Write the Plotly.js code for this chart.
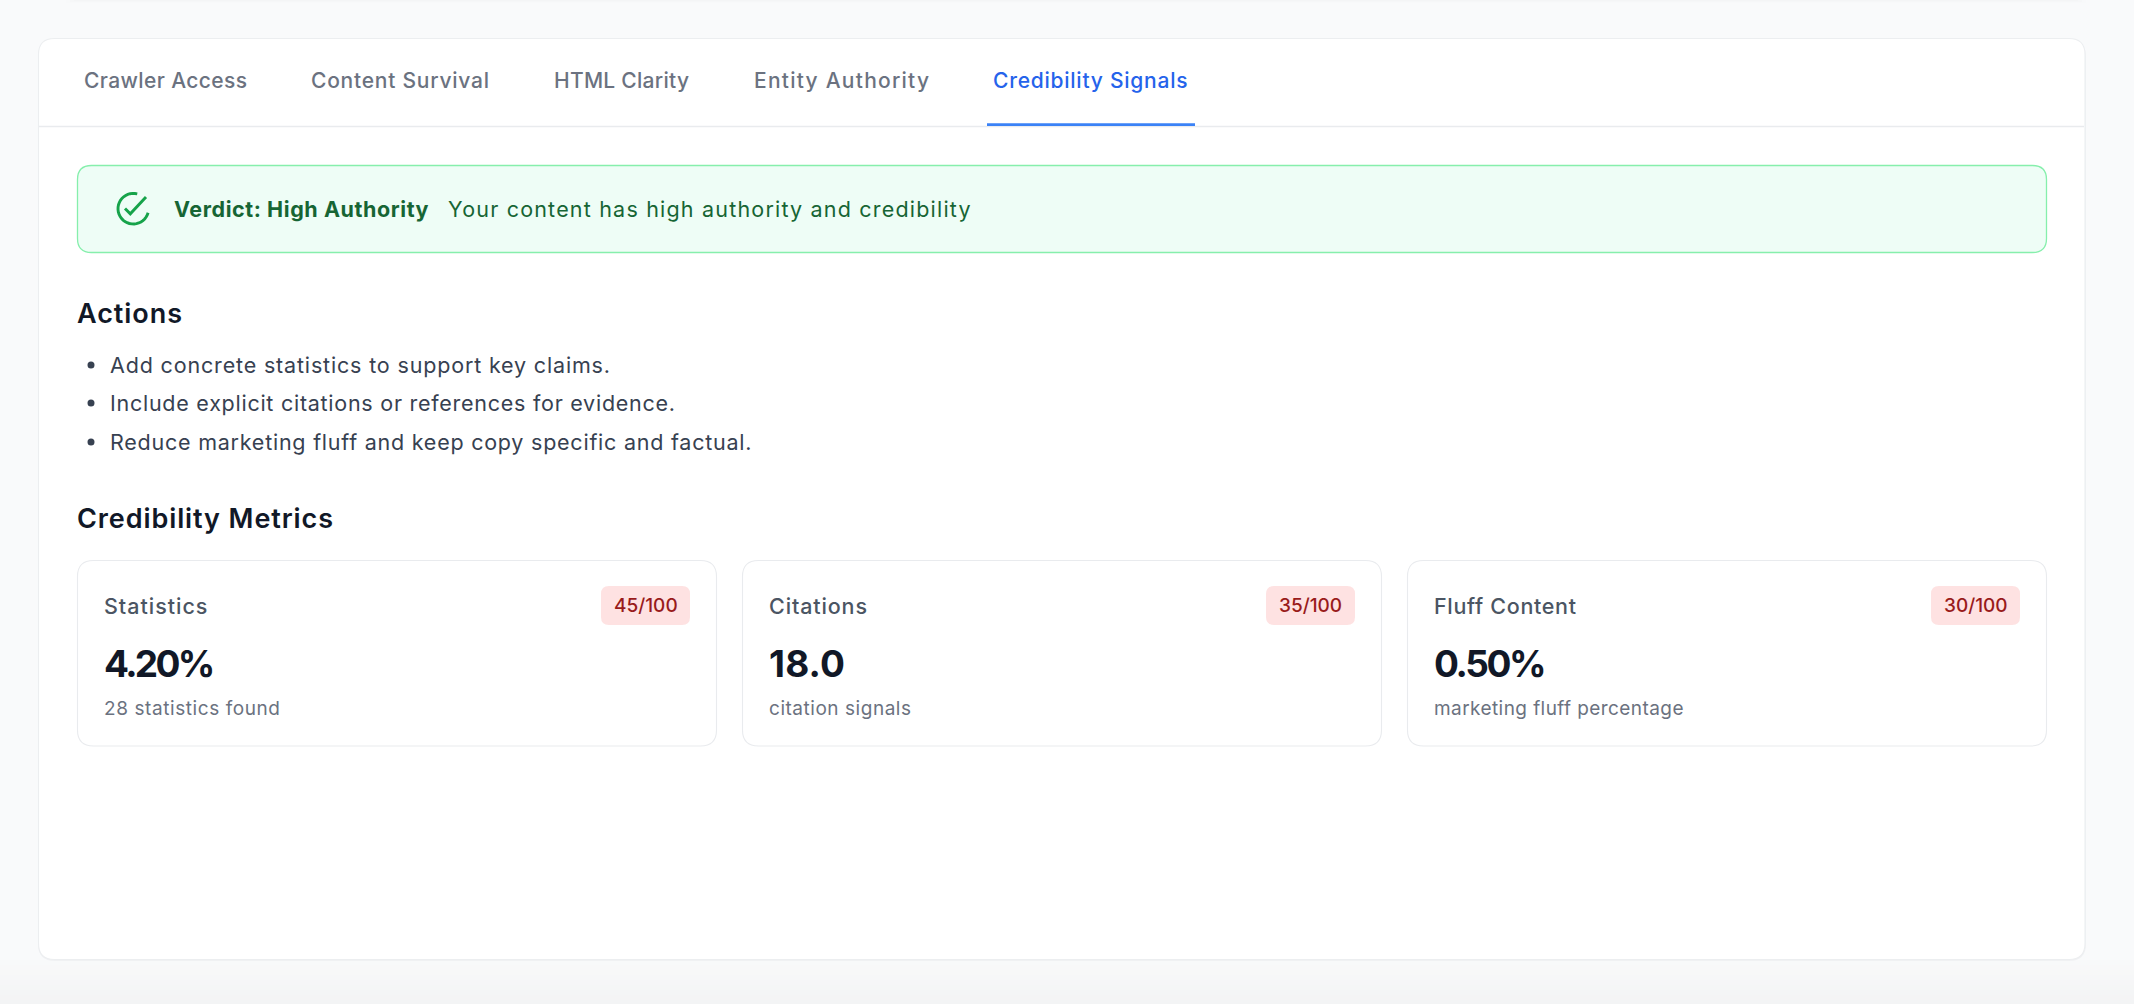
<!DOCTYPE html>
<html><head><meta charset="utf-8">
<script src="https://cdn.plot.ly/plotly-3.0.1.min.js"></script>
<style>html,body{margin:0;padding:0;background:#f9fafb;overflow:hidden}#c{width:2134px;height:1004px}</style>
</head><body><div id="c"></div>
<script>
const tabs=["Crawler Access","Content Survival","HTML Clarity","Entity Authority","Credibility Signals"];
const verdictLabel="Verdict: High Authority";
const verdictText="Your content has high authority and credibility";
const actionsTitle="Actions";
const actions=["Add concrete statistics to support key claims.","Include explicit citations or references for evidence.","Reduce marketing fluff and keep copy specific and factual."];
const metricsTitle="Credibility Metrics";
const metricNames=["Statistics","Citations","Fluff Content"];
const metricValues=["4.20%","18.0","0.50%"];
const metricNotes=["28 statistics found","citation signals","marketing fluff percentage"];
const metricScores=["45/100","35/100","30/100"];

const F="Inter, sans-serif";
const ctx=document.createElement('canvas').getContext('2d');
const rr=(x0,y0,x1,y1,r)=>`M${x0+r},${y0}L${x1-r},${y0}Q${x1},${y0} ${x1},${y0+r}L${x1},${y1-r}Q${x1},${y1} ${x1-r},${y1}L${x0+r},${y1}Q${x0},${y1} ${x0},${y1-r}L${x0},${y0+r}Q${x0},${y0} ${x0+r},${y0}Z`;
const box=(x0,y0,x1,y1,r,fill,line,w)=>({type:'path',xref:'x',yref:'y',path:rr(x0,y0,x1,y1,r),fillcolor:fill,line:{color:line||'rgba(0,0,0,0)',width:w===undefined?(line?1.2:0):w},layer:'below'});
// fit: ink width wanted for the text, reached with letter-spacing
const txt=(x,y,s,size,color,weight,anchor,fit)=>{
  let t=s;
  if(fit){
    ctx.font=`${weight||400} ${size}px Inter`;
    const sp=(fit-ctx.measureText(s).width)/(s.length-1);
    t=`<span style="letter-spacing:${sp.toFixed(3)}px">${s}</span>`;
  }
  return {x:anchor?x:x-1.2,y,xref:'x',yref:'y',text:t,showarrow:false,xanchor:anchor||'left',yanchor:'middle',align:'left',font:{family:F,size,color,weight:weight||400},borderpad:0};
};

const shapes=[],ann=[];
// bottom fade & top shadow
['#f8f9fa','#f8f8f9','#f7f8f8','#f6f7f8','#f6f6f7','#f5f6f6','#f4f5f6','#f4f4f5','#f3f4f5'].forEach((c,i)=>shapes.push({type:'rect',x0:0,x1:2134,y0:960+i*5,y1:1004,fillcolor:c,line:{width:0},layer:'below'}));
[[66,2086,3,'#f8f9fa'],[70,2082,2,'#f6f7f8'],[74,2078,1,'#f4f5f6']].forEach(([a,b,h,c])=>shapes.push({type:'rect',x0:a,x1:b,y0:0,y1:h,fillcolor:c,line:{width:0},layer:'below'}));
// main card
shapes.push(box(38,40,2086,961,17,'#f0f1f3',null));
shapes.push(box(38.5,38.5,2085,959.5,16,'#ffffff','#eceef0',1.1));
// tab rule + underline
shapes.push({type:'line',x0:39,x1:2084,y0:126.5,y1:126.5,line:{color:'#e9ebee',width:1.3}});
shapes.push({type:'rect',x0:987,x1:1195,y0:123.2,y1:126,fillcolor:'#3b82f6',line:{width:0}});
const tabX=[84,311,554,754,993.5], tabFit=[163,178,135,175,194.5];
tabs.forEach((t,i)=>ann.push(txt(tabX[i],80.5,t,21,i==4?'#2563eb':'#6b7280',500,null,tabFit[i])));
// banner
shapes.push(box(77.5,165.5,2046.5,252.5,14,'#eefdf6','#86efac',1.3));
const ax=133.3, ay=208.7, ar=15.3, pts=[];
for(let a=15;a<=285;a+=9){const d=a*Math.PI/180;pts.push((pts.length?'L':'M')+(ax+ar*Math.cos(d)).toFixed(2)+','+(ay+ar*Math.sin(d)).toFixed(2));}
shapes.push({type:'path',xref:'x',yref:'y',path:pts.join(''),line:{color:'#16a34a',width:2.9},fillcolor:'rgba(0,0,0,0)'});
shapes.push({type:'path',xref:'x',yref:'y',path:'M125,208.5 L130.3,213.8 L146,197',line:{color:'#16a34a',width:2.9},fillcolor:'rgba(0,0,0,0)'});
ann.push(txt(174.6,209,verdictLabel,21.5,'#166534',700,null,254.5));
ann.push(txt(448,209,verdictText,21.5,'#166534',400,null,522.5));
// actions
ann.push(txt(77.5,313,actionsTitle,27,'#111827',600,null,105));
const bulletY=[365,403,442], bulletFit=[500,565,641.5];
actions.forEach((a,i)=>{
  shapes.push({type:'circle',x0:87.5,x1:94.5,y0:bulletY[i]-3.5,y1:bulletY[i]+3.5,fillcolor:'#374151',line:{width:0}});
  ann.push(txt(110,bulletY[i],a,21.5,'#374151',400,null,bulletFit[i]));
});
ann.push(txt(77.5,518.5,metricsTitle,27,'#111827',600,null,256));
// metric cards
const cardX=[77.5,742.5,1407.5], cardW=639;
const nameFit=[103.4,98,142], valueFit=[111.4,76,112.5], noteFit=[176,142,249.5];
metricNames.forEach((n,i)=>{
  const x=cardX[i];
  shapes.push(box(x,560.5,x+cardW,746,16,'#ffffff','#e9ebee',1.1));
  shapes.push(box(x+523.5,586,x+612.5,625,8,'#fee2e2',null));
  ann.push(txt(x+27,605.5,n,21.5,'#4b5563',500,null,nameFit[i]));
  ann.push(txt(x+568,605.5,metricScores[i],19,'#991b1b',500,'center'));
  ann.push(txt(x+27,663,metricValues[i],37,'#111827',700,null,valueFit[i]));
  ann.push(txt(x+27,708,metricNotes[i],19,'#6b7280',400,null,noteFit[i]));
});
Plotly.newPlot('c',[{x:[0,2134],y:[0,1004],mode:'markers',marker:{opacity:0},hoverinfo:'skip',showlegend:false}],{
  width:2134,height:1004,margin:{l:0,r:0,t:0,b:0},paper_bgcolor:'#f9fafb',plot_bgcolor:'#f9fafb',
  xaxis:{range:[0,2134],visible:false,fixedrange:true},yaxis:{range:[1004,0],visible:false,fixedrange:true},
  shapes,annotations:ann,showlegend:false
},{displayModeBar:false,staticPlot:true});
</script></body></html>
